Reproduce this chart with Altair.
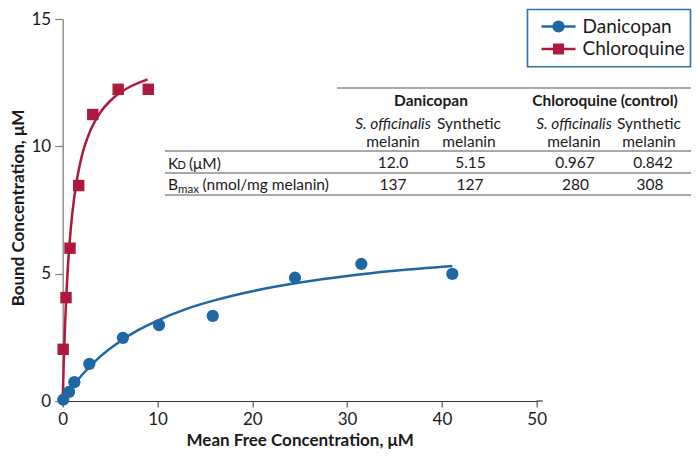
import altair as alt
import pandas as pd

# ---------------- data ----------------
dan_x = [0.06, 0.67, 1.23, 2.81, 6.35, 10.16, 15.83, 24.5, 31.5, 41.1]
dan_y = [0.05, 0.36, 0.74, 1.46, 2.48, 2.98, 3.34, 4.84, 5.38, 4.99]

cq_x = [0.05, 0.35, 0.77, 1.69, 3.17, 5.85, 9.03]
cq_y = [2.03, 4.06, 6.00, 8.46, 11.25, 12.24, 12.24]

# fitted curves, sampled by eye along the drawn lines
dan_curve_x = [0, 1, 2, 4, 6, 8, 10, 13, 16, 20, 25, 30, 35, 41.1]
dan_curve_y = [0, 0.55, 1.01, 1.76, 2.33, 2.79, 3.16, 3.61, 3.95, 4.31, 4.65, 4.91, 5.11, 5.30]

cq_curve_x = [0, 0.1, 0.25, 0.5, 0.75, 1, 1.5, 2, 3, 4, 5, 6, 7, 8, 8.95]
cq_curve_y = [0, 1.39, 3.02, 4.96, 6.32, 7.32, 8.69, 9.59, 10.69, 11.35, 11.78, 12.09, 12.32, 12.49, 12.63]

x_ticks = [0, 10, 20, 30, 40, 50]
y_ticks = [0, 5, 10, 15]

legend_labels = ["Danicopan", "Chloroquine"]
table_groups = ["Danicopan", "Chloroquine (control)"]
table_sub_top = ["S. officinalis", "Synthetic", "S. officinalis", "Synthetic"]
table_sub_bottom = ["melanin", "melanin", "melanin", "melanin"]
kd_values = ["12.0", "5.15", "0.967", "0.842"]
bmax_values = ["137", "127", "280", "308"]

# ---------------- styling / layout ----------------
BLUE = "#1f67a2"
RED = "#ad1a3d"
BOX = "#2f6fad"
TXT = "#1a1a1a"
FONT = "Lato"
OX, OY = 62.7, 19.0   # page position of the plot's top-left corner
W, H = 474, 382
SVG_W, SVG_H = 684, 443


def px(v):
    return v - OX


def py(v):
    return v - OY


def one():
    return alt.Data(values=[{"k": 1}])


def text(t, x, y, size=16, weight="normal", style="normal", align="center",
         baseline="middle", color=TXT):
    return alt.Chart(one()).mark_text(
        text=t, font=FONT, fontSize=size, fontWeight=weight, fontStyle=style,
        align=align, baseline=baseline, color=color
    ).encode(x=alt.value(px(x)), y=alt.value(py(y)))


def hrule(x1, x2, y, color="#555555", width=1.0):
    return alt.Chart(one()).mark_rule(color=color, strokeWidth=width).encode(
        x=alt.value(px(x1)), x2=alt.value(px(x2)), y=alt.value(py(y)))


x_enc = alt.X(
    "x:Q",
    scale=alt.Scale(domain=[0, 50], nice=False, zero=False),
    axis=alt.Axis(
        values=x_ticks, title="Mean Free Concentration, μM", grid=False,
        labelFlush=False,
        domainColor="#333333", domainWidth=1.2, tickColor="#555555", tickSize=6,
        tickWidth=1.2, labelPadding=4, labelFont=FONT, labelFontSize=17,
        labelColor=TXT, titleFont=FONT, titleFontSize=17, titleFontWeight="bold",
        titleColor=TXT, titleY=31, titleBaseline="top",
    ),
)
y_enc = alt.Y(
    "y:Q",
    scale=alt.Scale(domain=[0, 15], nice=False),
    axis=alt.Axis(
        values=y_ticks, title="Bound Concentration, μM", grid=False,
        labelFlush=False,
        domainColor="#808080", domainWidth=1.3, tickColor="#808080", tickSize=8,
        tickWidth=1.2, labelPadding=4, labelFont=FONT, labelFontSize=17,
        labelColor=TXT, titleFont=FONT, titleFontSize=17, titleFontWeight="bold",
        titleColor=TXT, titleX=23.5 - OX, titleY=207.5 - OY, titleBaseline="alphabetic",
        titleAngle=270,
    ),
)

dan_pts = pd.DataFrame({"x": dan_x, "y": dan_y})
cq_pts = pd.DataFrame({"x": cq_x, "y": cq_y})
dan_curve = pd.DataFrame({"x": dan_curve_x, "y": dan_curve_y})
cq_curve = pd.DataFrame({"x": cq_curve_x, "y": cq_curve_y})

layers = [
    alt.Chart(cq_curve).mark_line(color=RED, strokeWidth=2.5, interpolate="monotone")
    .encode(x=x_enc, y=y_enc),
    alt.Chart(dan_curve).mark_line(color=BLUE, strokeWidth=2.5, interpolate="monotone")
    .encode(x=x_enc, y=y_enc),
    alt.Chart(dan_pts).mark_point(shape="circle", filled=True, size=150, opacity=1, color=BLUE)
    .encode(x=x_enc, y=y_enc),
    alt.Chart(cq_pts).mark_point(shape="square", filled=True, size=130, opacity=1, color=RED)
    .encode(x=x_enc, y=y_enc),
]

# small extension of the x-axis line past 50, as in the reference
layers.append(hrule(OX + W, OX + W + 6, OY + H, color="#333333", width=1.2))

# ---------------- legend box ----------------
layers.append(
    alt.Chart(one()).mark_rect(fill="white", stroke=BOX, strokeWidth=1.6).encode(
        x=alt.value(px(527.5)), x2=alt.value(px(690.5)),
        y=alt.value(py(9.5)), y2=alt.value(py(66.7)))
)
for label, color, shape, size, yy in [
    (legend_labels[0], BLUE, "circle", 150, 26.5),
    (legend_labels[1], RED, "square", 120, 49),
]:
    layers.append(hrule(541.5, 575.5, yy, color=color, width=2.5))
    layers.append(
        alt.Chart(one()).mark_point(shape=shape, filled=True, size=size, opacity=1, color=color)
        .encode(x=alt.value(px(558.5)), y=alt.value(py(yy)))
    )
    layers.append(text(label, 582.5, yy, size=19, align="left"))

# ---------------- table ----------------
RIGHT = 691
layers.append(hrule(337, RIGHT, 88))
layers.append(hrule(165, RIGHT, 151))
layers.append(hrule(165, RIGHT, 173))
layers.append(hrule(165, RIGHT, 195))

group_cx = [431, 605]
for g, cx in zip(table_groups, group_cx):
    layers.append(text(g, cx, 101, size=15.5, weight="bold"))

col_cx = [393, 469, 574, 649]
for t, cx in zip(table_sub_top, col_cx):
    layers.append(text(t, cx, 124, size=15.5, style="italic" if t.startswith("S.") else "normal"))
for t, cx in zip(table_sub_bottom, col_cx):
    layers.append(text(t, cx, 141.5, size=15.5))
for t, cx in zip(kd_values, [393, 470.5, 575, 653]):
    layers.append(text(t, cx, 163, size=15.5))
for t, cx in zip(bmax_values, [393, 470, 575.5, 650]):
    layers.append(text(t, cx, 184.7, size=15.5))

# row labels: K_D (small-cap D) and B_max (subscript max)
layers.append(text("K", 168, 168.5, size=15.5, align="left", baseline="alphabetic"))
layers.append(text("D", 177.5, 168.5, size=11, align="left", baseline="alphabetic"))
layers.append(text("(μM)", 189, 168.5, size=15.5, align="left", baseline="alphabetic"))
layers.append(text("B", 168, 190, size=15.5, align="left", baseline="alphabetic"))
layers.append(text("max", 178, 192.5, size=11.5, align="left", baseline="alphabetic"))
layers.append(text("(nmol/mg melanin)", 202.5, 190, size=15.5, align="left", baseline="alphabetic"))

chart = alt.layer(*layers).properties(
    width=W, height=H,
    autosize=alt.AutoSizeParams(type="none"),
    padding={"left": OX - 8, "top": OY - 8, "right": SVG_W - (OX - 8) - W,
             "bottom": SVG_H - (OY - 8) - H},
).configure(font=FONT).configure_view(stroke=None)

chart.save("out.html", embed_options={"renderer": "svg", "actions": False})
